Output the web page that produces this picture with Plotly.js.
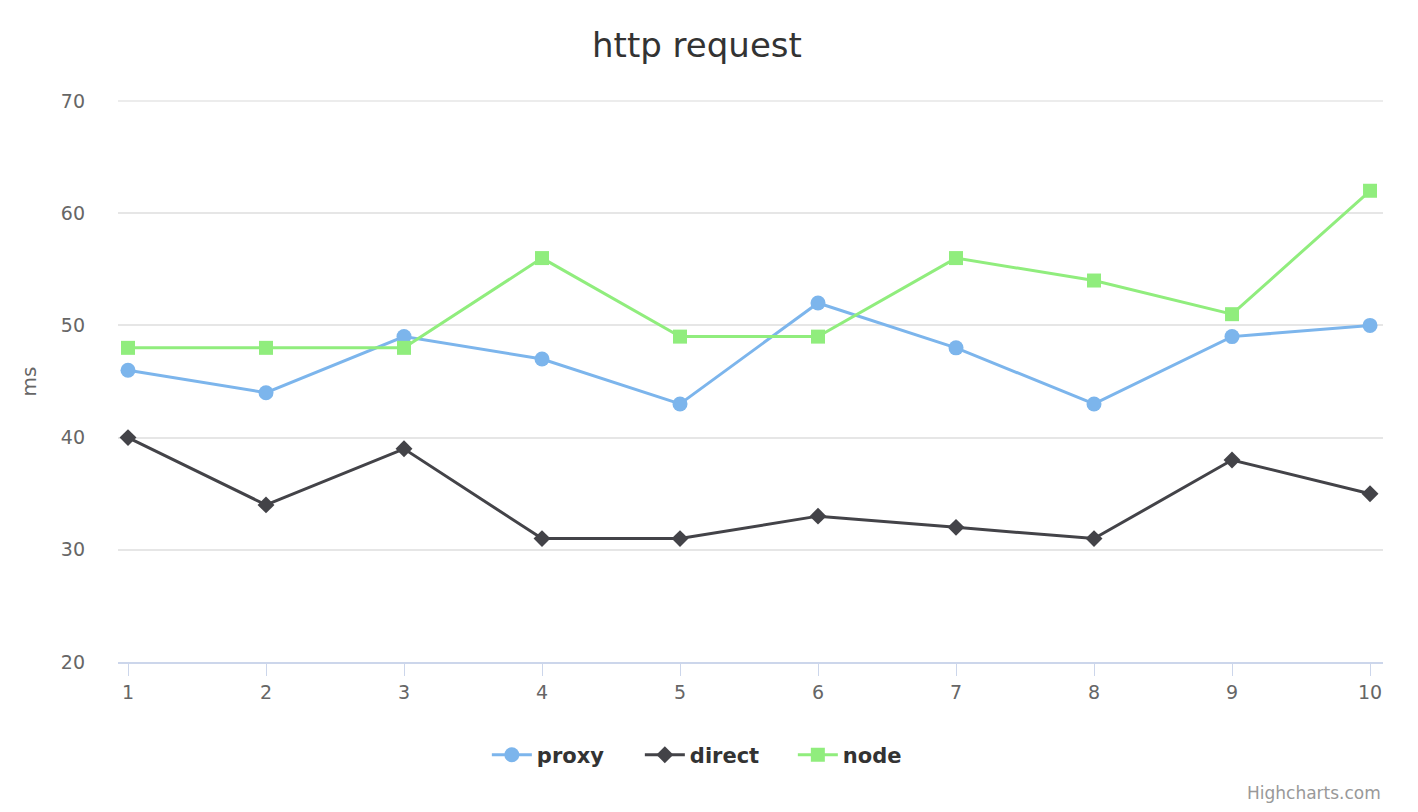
<!DOCTYPE html>
<html>
<head>
<meta charset="utf-8">
<script src="https://cdn.plot.ly/plotly-3.0.1.min.js"></script>
<style>html,body{margin:0;padding:0;background:#fff;}#chart{width:1418px;height:812px;}</style>
</head>
<body>
<div id="chart"></div>
<script>
const categories = [1, 2, 3, 4, 5, 6, 7, 8, 9, 10];
const proxy = [46, 44, 49, 47, 43, 52, 48, 43, 49, 50];
const direct = [40, 34, 39, 31, 31, 33, 32, 31, 38, 35];
const node = [48, 48, 48, 56, 49, 49, 56, 54, 51, 62];
const yTicks = [20, 30, 40, 50, 60, 70];

const font = "'DejaVu Sans', 'Open Sans', sans-serif";

const traces = [
  {x: categories, y: proxy, name: 'proxy', mode: 'lines+markers',
   line: {color: '#7cb5ec', width: 3}, marker: {symbol: 'circle', size: 15, color: '#7cb5ec'}},
  {x: categories, y: direct, name: 'direct', mode: 'lines+markers',
   line: {color: '#434348', width: 3}, marker: {symbol: 'diamond', size: 13, color: '#434348'}},
  {x: categories, y: node, name: 'node', mode: 'lines+markers',
   line: {color: '#90ed7d', width: 3}, marker: {symbol: 'square', size: 14, color: '#90ed7d'}}
];

const layout = {
  width: 1418, height: 812,
  margin: {l: 118, r: 35, t: 101, b: 150},
  paper_bgcolor: '#fff', plot_bgcolor: '#fff',
  font: {family: font, color: '#666'},
  title: {text: 'http request', x: 0.4915, xanchor: 'center', y: 0.9446, yanchor: 'middle',
          font: {family: font, size: 34, color: '#333'}},
  showlegend: true,
  legend: {orientation: 'h', x: 0.473, xanchor: 'center', y: -0.166, yanchor: 'middle',
           font: {family: font, size: 21, color: '#333', weight: 'bold'},
           entrywidth: 98, entrywidthmode: 'pixels', itemwidth: 40},
  xaxis: {range: [0.9275, 10.094], tickvals: categories, ticktext: categories.map(String),
          showgrid: false, zeroline: false, showline: true, linecolor: '#ccd6eb', linewidth: 2,
          ticks: 'outside', ticklen: 12, tickcolor: '#ccd6eb', tickwidth: 1,
          tickfont: {family: font, size: 19, color: '#666'}},
  yaxis: {range: [20, 70], tickvals: yTicks, ticktext: yTicks.map(String),
          showgrid: true, gridcolor: '#e6e6e6', gridwidth: 1.5, zeroline: false, showline: false,
          ticks: '', ticklabelstandoff: 32,
          tickfont: {family: font, size: 19, color: '#666'},
          title: {text: 'ms', standoff: 18, font: {family: font, size: 20, color: '#666'}}},
  shapes: [{type: 'line', xref: 'paper', yref: 'paper', x0: 0, x1: 1, y0: 1, y1: 1,
            line: {color: '#e6e6e6', width: 1.5}, layer: 'below'}],
  annotations: [{text: 'Highcharts.com', xref: 'paper', yref: 'paper', x: 1.0, xanchor: 'right',
                 y: -0.2335, yanchor: 'middle', showarrow: false,
                 font: {family: font, size: 17, color: '#999'}}]
};

Plotly.newPlot('chart', traces, layout, {displayModeBar: false});
</script>
</body>
</html>
